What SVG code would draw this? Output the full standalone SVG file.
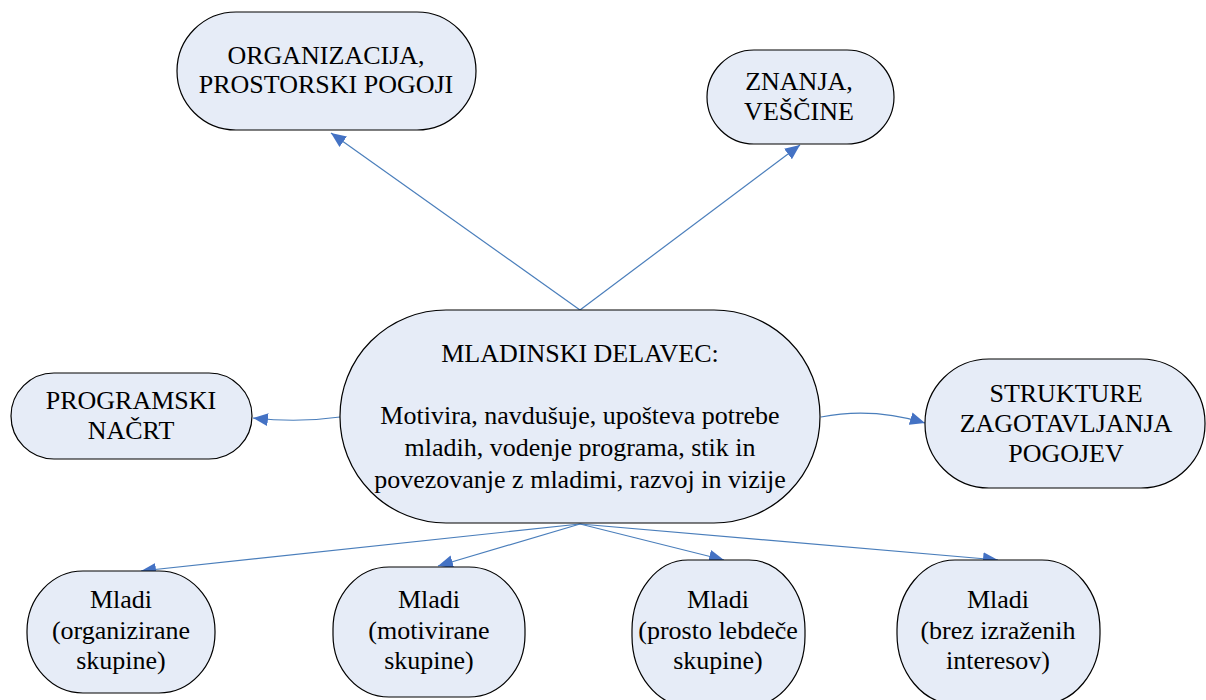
<svg xmlns="http://www.w3.org/2000/svg" width="1206" height="700" viewBox="0 0 1206 700">
<style>
.n{fill:#E6ECF7;stroke:#000;stroke-width:1.2}
.c{fill:none;stroke:#4A7EBB;stroke-width:1.2}
</style>
<defs>
<marker id="ah" markerUnits="userSpaceOnUse" markerWidth="16" markerHeight="14" refX="15" refY="6.5" orient="auto">
<path d="M0,0 L15,6.5 L0,13 z" fill="#4472C4"/>
</marker>
</defs>
<rect width="1206" height="700" fill="#fff"/>
<g id="connectors">
<path class="c" d="M580,310 L331,133" marker-end="url(#ah)"/>
<path class="c" d="M580,310 L800,145" marker-end="url(#ah)"/>
<path class="c" d="M340,417 Q298,423 253,418" marker-end="url(#ah)"/>
<path class="c" d="M821,417 Q872,407 925,423" marker-end="url(#ah)"/>
<path class="c" d="M580,524 L141,571" marker-end="url(#ah)"/>
<path class="c" d="M580,524 L438,566" marker-end="url(#ah)"/>
<path class="c" d="M580,524 L724,560" marker-end="url(#ah)"/>
<path class="c" d="M580,524 L998,560" marker-end="url(#ah)"/>
</g>
<g font-family="Liberation Serif, serif" font-size="26" fill="#000" text-anchor="middle">
<g id="node-organizacija">
<rect class="n" x="177" y="12" width="299" height="118" rx="59" ry="59"/>
<text x="326" y="64">ORGANIZACIJA,</text>
<text x="326" y="93">PROSTORSKI POGOJI</text>
</g>
<g id="node-znanja">
<rect class="n" x="707" y="50" width="187" height="94" rx="47" ry="47"/>
<text x="799" y="90">ZNANJA,</text>
<text x="799" y="120">VEŠČINE</text>
</g>
<g id="node-mladinski">
<rect class="n" x="340" y="310" width="480" height="213" rx="106" ry="106"/>
<text x="580" y="362">MLADINSKI DELAVEC:</text>
<text x="580" y="424">Motivira, navdušuje, upošteva potrebe</text>
<text x="580" y="456">mladih, vodenje programa, stik in</text>
<text x="580" y="488">povezovanje z mladimi, razvoj in vizije</text>
</g>
<g id="node-programski">
<rect class="n" x="11" y="373" width="241" height="86" rx="43" ry="43"/>
<text x="131" y="409">PROGRAMSKI</text>
<text x="131" y="439">NAČRT</text>
</g>
<g id="node-strukture">
<rect class="n" x="925" y="359" width="280" height="129" rx="64" ry="64"/>
<text x="1066" y="402">STRUKTURE</text>
<text x="1066" y="432">ZAGOTAVLJANJA</text>
<text x="1066" y="462">POGOJEV</text>
</g>
<g id="node-mladi-organizirane">
<rect class="n" x="27" y="571" width="188" height="122" rx="56" ry="60"/>
<text x="121" y="608">Mladi</text>
<text x="121" y="639">(organizirane</text>
<text x="121" y="669">skupine)</text>
</g>
<g id="node-mladi-motivirane">
<rect class="n" x="333" y="567" width="192" height="130" rx="56" ry="62"/>
<text x="429" y="608">Mladi</text>
<text x="429" y="639">(motivirane</text>
<text x="429" y="669">skupine)</text>
</g>
<g id="node-mladi-lebdece">
<rect class="n" x="632" y="560" width="173" height="146" rx="56" ry="70"/>
<text x="718" y="608">Mladi</text>
<text x="718" y="639">(prosto lebdeče</text>
<text x="718" y="669">skupine)</text>
</g>
<g id="node-mladi-brez">
<rect class="n" x="897" y="560" width="203" height="144" rx="58" ry="70"/>
<text x="998" y="608">Mladi</text>
<text x="998" y="639">(brez izraženih</text>
<text x="998" y="669">interesov)</text>
</g>
</g>
</svg>
